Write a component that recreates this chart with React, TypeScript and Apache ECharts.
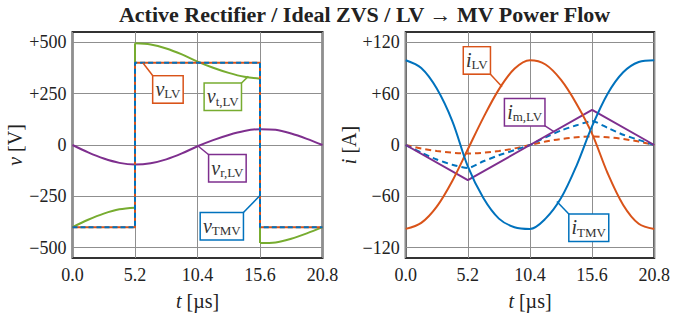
import React, { useEffect, useRef } from 'react';
import * as echarts from 'echarts';

// ---------- data ----------
const tSamples = [0, 1.3, 2.6, 3.9, 5.2, 6.5, 7.8, 9.1, 10.4, 11.7, 13.0, 14.3, 15.6, 16.9, 18.2, 19.5, 20.8];
const switchTimes = [0, 5.2, 15.6, 20.8];
const vLVLevels = [-400, 400, -400];
const vTMVLevels = [-400, 400, -400];
const vRLV = [0, -36, -66, -87, -95, -89, -70, -41, -6, 24, 49, 68, 77, 74, 56, 30, 0];

const tSeg1 = [0, 1.3, 2.6, 3.9, 5.2];
const vTLVSeg1 = [-400, -364, -334, -313, -305];
const tSeg2 = [5.2, 6.5, 7.8, 9.1, 10.4, 11.7, 13.0, 14.3, 15.6];
const vTLVSeg2 = [495, 489, 470, 441, 406, 376, 351, 332, 323];
const tSeg3 = [15.6, 16.9, 18.2, 19.5, 20.8];
const vTLVSeg3 = [-477, -474, -456, -430, -400];

const iLV = [-98, -91, -72, -42, -5, 32, 65, 89, 99, 94, 76, 48, 13, -33, -70, -92, -98];
const iTMV = [99, 90, 66, 28, -25, -62, -86, -96, -98, -86, -62, -24, 22, 60, 85, 97, 99];
const iBlueDashed = [0, -9, -17, -23, -27, -19, -12, -6, 0, 9, 17, 23, 28, 20, 12, 6, 0];
const iOrangeDashed = [0, -4, -7, -9, -10, -9, -7, -4, 0, 4, 7, 9, 10, 9, 7, 4, 0];
const tTriangle = [0, 5.2, 10.4, 15.6, 20.8];
const iMLV = [0, -41, 0, 41, 0];

const tTicks = [0, 5.2, 10.4, 15.6, 20.8];
const vTicks = [-500, -250, 0, 250, 500];
const iTicks = [-120, -60, 0, 60, 120];

const TITLE = 'Active Rectifier / Ideal ZVS / LV \u2192 MV Power Flow';

// ---------- styles ----------
const FONT = 'Liberation Serif';
const SMOOTH = 0.33;
const C = {
  orange: '#D95319',
  blue: '#0072BD',
  green: '#77AC30',
  purple: '#7E2F8E',
  text: '#222',
  grid: '#8f8f8f',
  frame: '#333',
};

const zip = (ts: number[], vs: number[]) => ts.map((t, i) => [t, vs[i]]);
const steps = (times: number[], levels: number[]) => {
  const out: number[][] = [];
  levels.forEach((lv, k) => {
    out.push([times[k], lv]);
    out.push([times[k + 1], lv]);
  });
  return out;
};
const signed = (v: number) => (v > 0 ? `+${v}` : v < 0 ? `\u2212${-v}` : '0');

const annotations = [
  { grid: 0, anchor: [5.85, 400], dx: 10.6, dy: 13.6, align: 'left', vAlign: 'top', color: C.orange, main: 'v', sub: 'LV' },
  { grid: 0, anchor: [14.63, 334], dx: -7.6, dy: 7.3, align: 'right', vAlign: 'top', color: C.green, main: 'v', sub: 't,LV' },
  { grid: 0, anchor: [10.47, -6], dx: 11, dy: 9, align: 'left', vAlign: 'top', color: C.purple, main: 'v', sub: 'r,LV' },
  { grid: 0, anchor: [15.6, -246], dx: -17.3, dy: 17.7, align: 'right', vAlign: 'top', color: C.blue, main: 'v', sub: 'TMV' },
  { grid: 1, anchor: [8.06, 68], dx: -12.3, dy: -13.4, align: 'right', vAlign: 'bottom', color: C.orange, main: 'i', sub: 'LV' },
  { grid: 1, anchor: [12.37, 16], dx: -9.3, dy: -6, align: 'right', vAlign: 'bottom', color: C.purple, main: 'i', sub: 'm,LV' },
  { grid: 1, anchor: [12.65, -66], dx: 12.7, dy: 13.3, align: 'left', vAlign: 'top', color: C.blue, main: 'i', sub: 'TMV' },
];

const line = (name: string, xi: number, data: any[], color: string, extra: any = {}) => ({
  type: 'line',
  name,
  xAxisIndex: xi,
  yAxisIndex: xi,
  data,
  showSymbol: false,
  symbol: 'none',
  silent: true,
  smooth: extra.smooth ?? false,
  z: extra.z ?? 2,
  lineStyle: {
    color,
    width: 2,
    type: extra.dash ?? 'solid',
    dashOffset: extra.dashOffset ?? 0,
    cap: 'butt',
  },
});

const xAxis = (gridIndex: number) => ({
  type: 'value',
  gridIndex,
  min: 0,
  max: 20.8,
  axisLine: { show: false },
  axisTick: { show: false, customValues: tTicks },
  axisLabel: {
    customValues: tTicks,
    formatter: (v: number) => v.toFixed(1),
    fontFamily: FONT,
    fontSize: 18,
    color: C.text,
    margin: 8,
  },
  splitLine: { show: true, lineStyle: { color: C.grid, width: 1 } },
  name: '{i|t} [\u00b5s]',
  nameLocation: 'middle',
  nameGap: 33,
  nameTextStyle: {
    fontFamily: FONT,
    fontSize: 20,
    color: C.text,
    rich: { i: { fontFamily: FONT, fontSize: 20, fontStyle: 'italic', color: C.text } },
  },
});

const yAxis = (gridIndex: number, lim: number, ticks: number[], name: string, gap: number) => ({
  type: 'value',
  gridIndex,
  min: -lim,
  max: lim,
  axisLine: { show: false },
  axisTick: { show: false, customValues: ticks },
  axisLabel: {
    customValues: ticks,
    formatter: (v: number) => signed(v),
    fontFamily: FONT,
    fontSize: 18,
    color: C.text,
    margin: 6,
  },
  splitLine: { show: true, lineStyle: { color: C.grid, width: 1 } },
  name,
  nameLocation: 'middle',
  nameGap: gap,
  nameRotate: 90,
  nameTextStyle: {
    fontFamily: FONT,
    fontSize: 20,
    color: C.text,
    rich: { i: { fontFamily: FONT, fontSize: 20, fontStyle: 'italic', color: C.text } },
  },
});

export default function App() {
  const ref = useRef<HTMLDivElement>(null);

  useEffect(() => {
    if (!ref.current) return;
    const chart = echarts.init(ref.current, undefined, { renderer: 'svg' });

    const gridBox = { show: true, borderColor: C.frame, borderWidth: 2, backgroundColor: 'transparent', containLabel: false };

    chart.setOption({
      animation: false,
      backgroundColor: '#fff',
      title: {
        text: TITLE,
        left: 364.6,
        top: 3,
        padding: 0,
        textAlign: 'center',
        textStyle: { fontFamily: FONT, fontWeight: 'bold', fontSize: 22, color: C.text },
      },
      grid: [
        { ...gridBox, left: 72.5, top: 32, width: 250, height: 226 },
        { ...gridBox, left: 405.7, top: 32, width: 251, height: 226 },
      ],
      xAxis: [xAxis(0), xAxis(1)],
      yAxis: [
        yAxis(0, 550, vTicks, '{i|v} [V]', 47),
        yAxis(1, 132, iTicks, '{i|i} [A]', 40),
      ],
      series: [
        // left: voltages
        line('v_r,LV', 0, zip(tSamples, vRLV), C.purple, { smooth: SMOOTH }),
        line('v_t,LV a', 0, zip(tSeg1, vTLVSeg1), C.green, { smooth: SMOOTH }),
        line('v_t,LV b', 0, zip(tSeg2, vTLVSeg2), C.green, { smooth: SMOOTH }),
        line('v_t,LV c', 0, zip(tSeg3, vTLVSeg3), C.green, { smooth: SMOOTH }),
        line('v_t,LV jump1', 0, [[tSeg1[tSeg1.length - 1], vTLVSeg1[vTLVSeg1.length - 1]], [tSeg2[0], vTLVSeg2[0]]], C.green),
        line('v_t,LV jump2', 0, [[tSeg2[tSeg2.length - 1], vTLVSeg2[vTLVSeg2.length - 1]], [tSeg3[0], vTLVSeg3[0]]], C.green),
        line('v_LV', 0, steps(switchTimes, vLVLevels), C.orange, { z: 3 }),
        line('v_TMV', 0, steps(switchTimes, vTMVLevels), C.blue, { z: 4, dash: [5, 3] }),
        // right: currents
        line('i dashed orange', 1, zip(tSamples, iOrangeDashed), C.orange, { smooth: SMOOTH, dash: [6, 4] }),
        line('i dashed blue', 1, zip(tSamples, iBlueDashed), C.blue, { smooth: 0.2, dash: [6, 4] }),
        line('i_m,LV', 1, zip(tTriangle, iMLV), C.purple, { z: 3 }),
        line('i_LV', 1, zip(tSamples, iLV), C.orange, { smooth: SMOOTH, z: 4 }),
        line('i_TMV', 1, zip(tSamples, iTMV), C.blue, { smooth: SMOOTH, z: 5 }),
      ],
    });

    const graphics: any[] = [];
    annotations.forEach((a) => {
      const p = chart.convertToPixel({ gridIndex: a.grid }, a.anchor) as number[];
      if (!p) return;
      const bx = p[0] + a.dx;
      const by = p[1] + a.dy;
      graphics.push({
        type: 'line',
        z: 100,
        silent: true,
        shape: { x1: p[0], y1: p[1], x2: bx, y2: by },
        style: { stroke: a.color, lineWidth: 1.5 },
      });
      graphics.push({
        type: 'text',
        z: 101,
        silent: true,
        x: bx,
        y: by,
        style: {
          text: `{m|${a.main}}{s|${a.sub}}`,
          align: a.align,
          verticalAlign: a.vAlign,
          backgroundColor: '#fff',
          borderColor: a.color,
          borderWidth: 1.5,
          padding: [1, 2, 2, 2],
          fill: '#333',
          rich: {
            m: { fontFamily: FONT, fontSize: 20, fontStyle: 'italic', lineHeight: 22, fill: '#333', color: '#333' },
            s: { fontFamily: FONT, fontSize: 13, padding: [10, 0, 0, 0], fill: '#333', color: '#333' },
          },
        },
      });
    });
    chart.setOption({ graphic: graphics });

    return () => chart.dispose();
  }, []);

  return (
    <div
      ref={ref}
      style={{ position: 'fixed', left: 0, top: 0, width: 673, height: 320, background: '#fff' }}
    />
  );
}
